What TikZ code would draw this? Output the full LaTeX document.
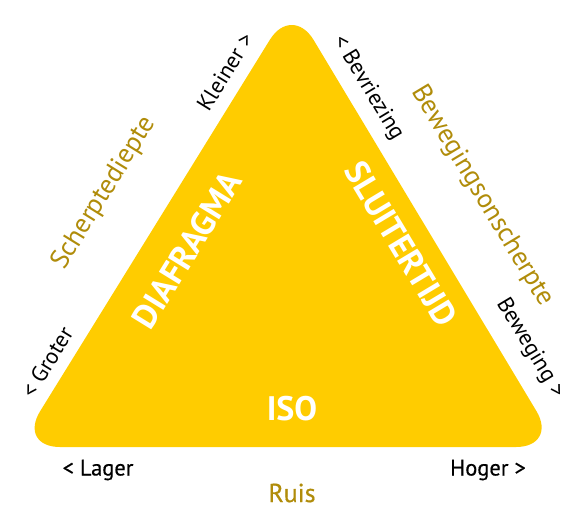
\documentclass[tikz,border=0pt]{standalone}
\usepackage{fontspec}
\setmainfont{PT Sans}
\newfontfamily\semibold{PT Sans}[FakeBold=0.5]
\usepackage{xcolor}
\usepackage{tikz}

\definecolor{trifill}{HTML}{FFCC00}
\definecolor{axistext}{HTML}{B08C0A}

\begin{document}
\begin{tikzpicture}[
    x=1pt, y=-1pt,
    setting/.style={text=white, font=\fontsize{34}{38}\selectfont\bfseries, inner sep=0pt},
    effect/.style={text=axistext, font=\fontsize{27}{31}\selectfont, inner sep=0pt},
    extreme/.style={text=black, font=\fontsize{22.5}{26}\selectfont, inner sep=0pt}
]
\useasboundingbox (0,0) rectangle (588,531);

% Exposure triangle.
\coordinate (left) at (18,447);
\coordinate (top) at (292,4);
\coordinate (right) at (558,447);
\fill[trifill, rounded corners=42pt] (left) -- (top) -- (right) -- cycle;

% The three camera settings.
\node[setting, rotate=58.3] (diafragma) at (187,250) {DIAFRAGMA};
\node[setting, rotate=-59] (sluitertijd) at (401,244) {SLUITERTIJD};
\node[setting] (iso) at (292,409) {ISO};

% What each setting changes.
\node[effect, rotate=58.3] (scherpte) at (104,193) {Scherptediepte};
\node[effect, rotate=-59] (onscherpte) at (482,196) {Bewegingsonscherpte};
\node[effect, font=\fontsize{26}{30}\selectfont\semibold] (ruis) at (292,493) {Ruis};

% Ends of each scale.
\node[extreme, rotate=58.3] (kleiner) at (225,72) {Kleiner >};
\node[extreme, rotate=58.3] (groter) at (47,362) {< Groter};
\node[extreme, rotate=-59] (bevriezing) at (368,88) {< Bevriezing};
\node[extreme, rotate=-59] (beweging) at (530,348) {Beweging >};
\node[extreme, font=\fontsize{22.5}{26}\selectfont\semibold] (lager) at (98,470) {< Lager};
\node[extreme, font=\fontsize{22.5}{26}\selectfont\semibold] (hoger) at (488,470) {Hoger >};

\end{tikzpicture}
\end{document}
